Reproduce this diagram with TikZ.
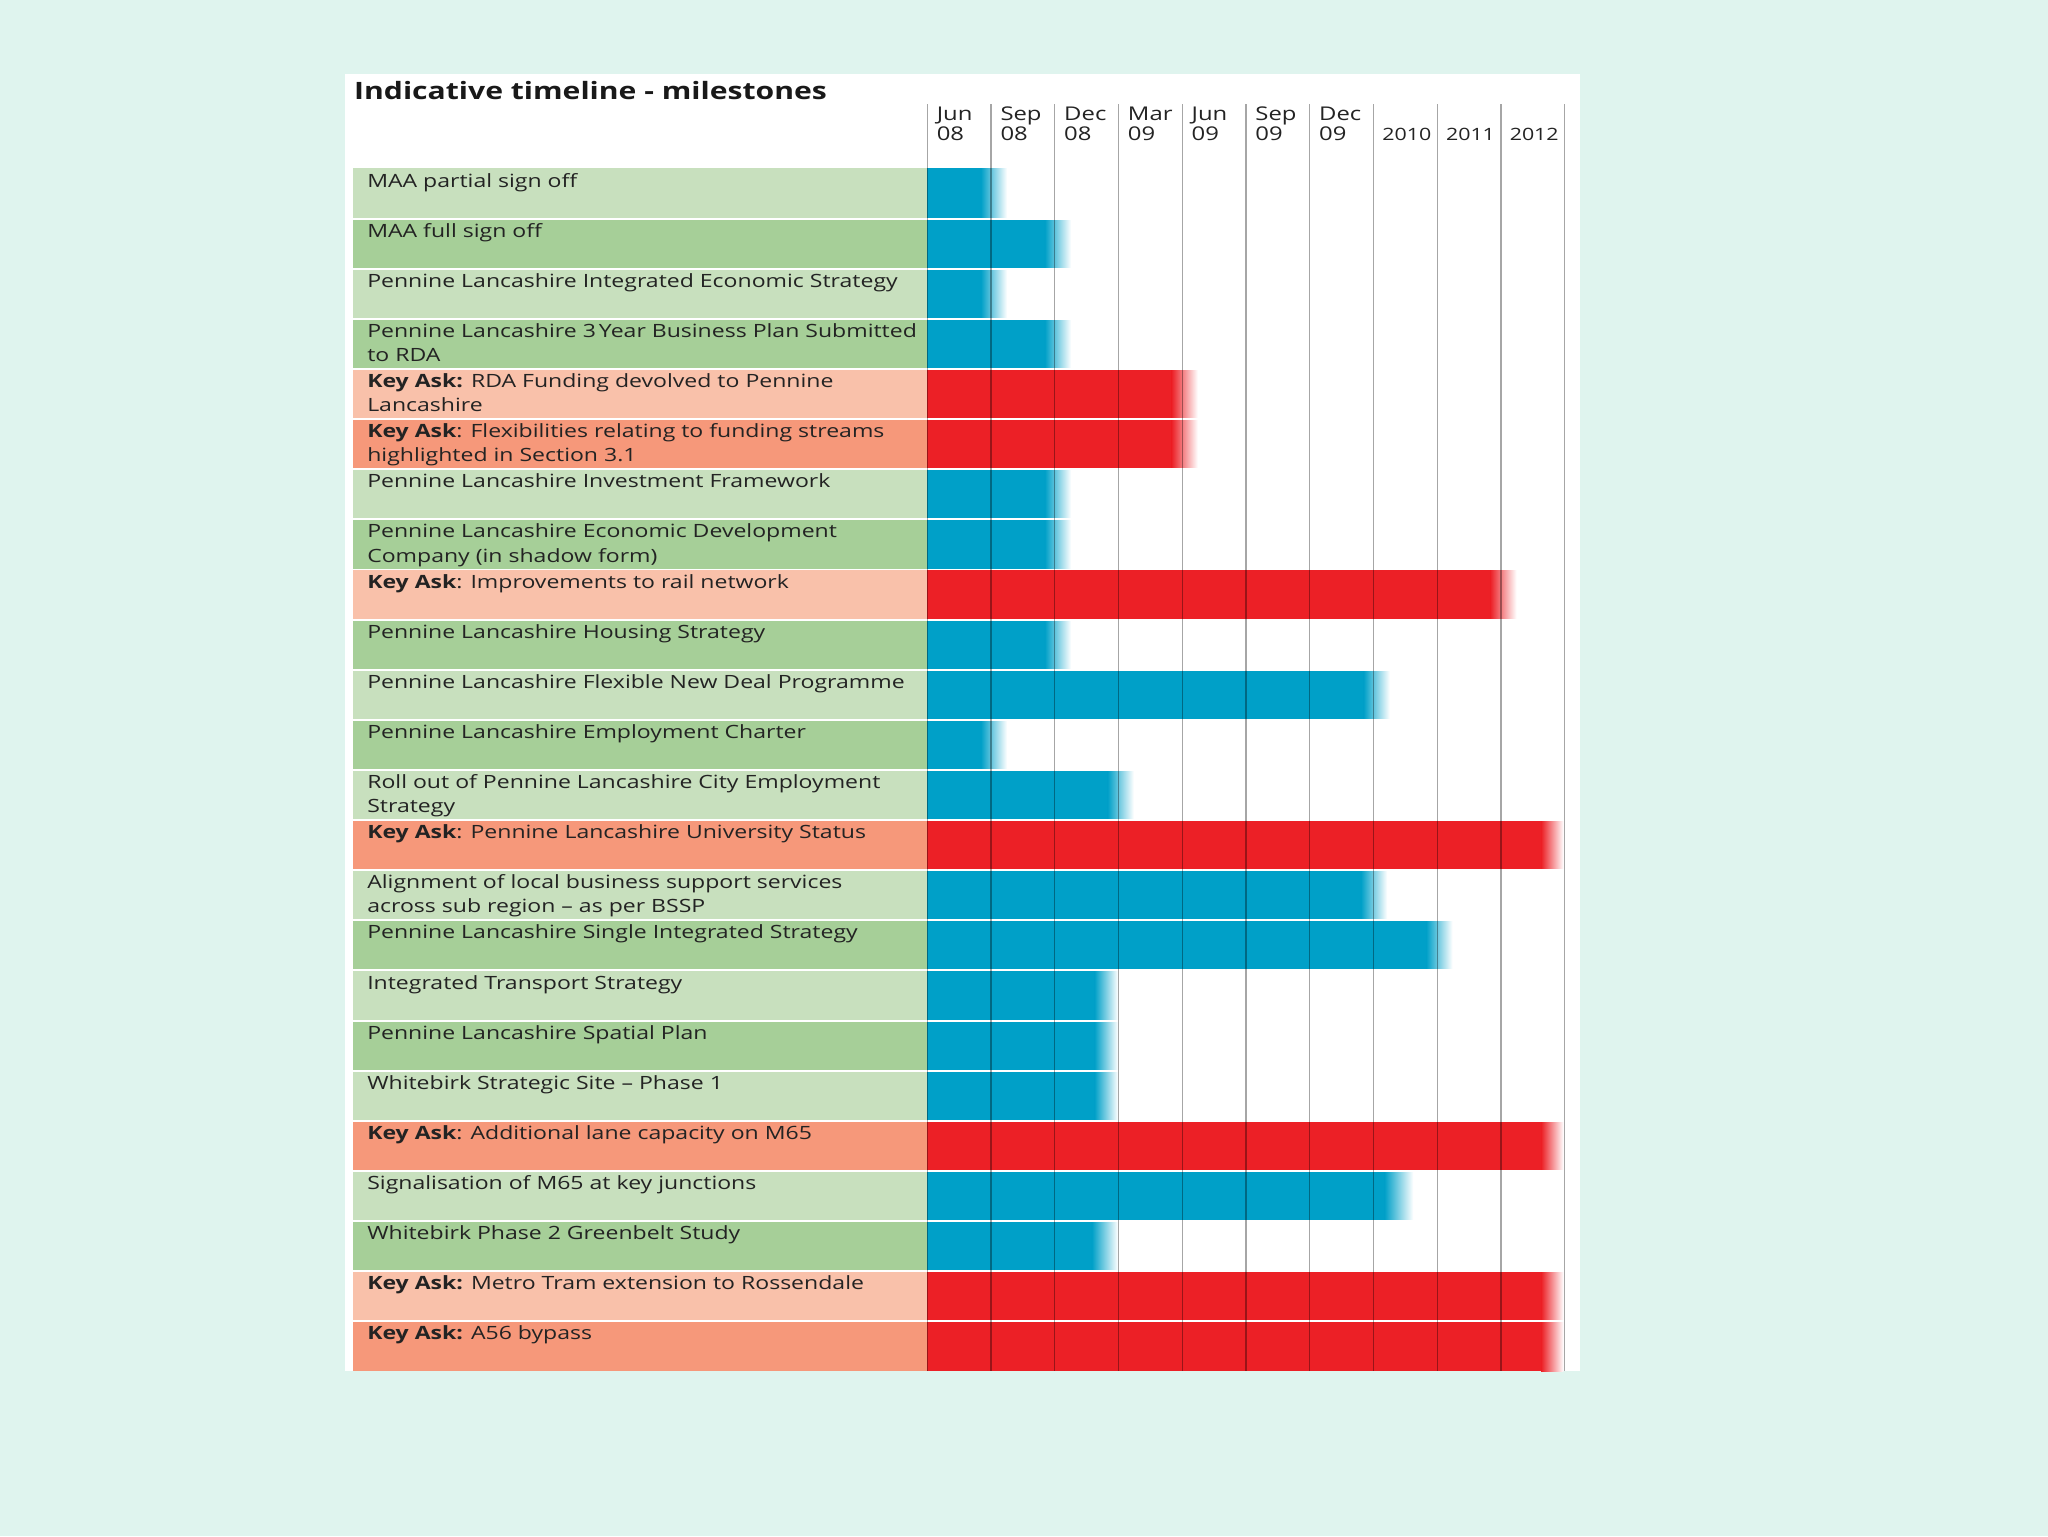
\documentclass[tikz,border=0pt]{standalone}
\usepackage{fontspec}
\setmainfont{Open Sans}[FakeStretch=1.26]
\definecolor{bgmint}{RGB}{223,244,238}
\definecolor{lgreen}{RGB}{200,224,190}
\definecolor{mgreen}{RGB}{166,207,152}
\definecolor{lsalmon}{RGB}{249,193,170}
\definecolor{dsalmon}{RGB}{246,152,122}
\definecolor{barblue}{RGB}{0,160,200}
\definecolor{barred}{RGB}{236,32,38}
\definecolor{txt}{RGB}{35,35,35}
\tikzset{
  lab/.style={anchor=north west,inner sep=0pt,align=left,text=txt,font=\fontsize{14}{18.5}\selectfont},
  hdr/.style={anchor=north west,inner sep=0pt,align=left,text=txt,font=\fontsize{14.5}{15.5}\selectfont},
  yr/.style={anchor=base west,inner sep=0pt,text=txt,font=\fontsize{13}{15.5}\selectfont},
  ttl/.style={anchor=base west,inner sep=0pt,text=black!90,font=\fontsize{18.3}{22}\selectfont\bfseries},
  gridline/.style={draw=black,draw opacity=0.35,line width=1pt},
  sepline/.style={draw=white,line width=1.5pt}
}
\begin{document}
\begin{tikzpicture}[x=1pt,y=-1pt]
\useasboundingbox (0,0) rectangle (1568,1176);
\fill[bgmint] (0,0) rectangle (1568,1176);
\fill[white] (264.5,57) rectangle (1210,1050);
\node[ttl] (title) at (271,76) {Indicative timeline - milestones};
\foreach \i/\fc/\bc/\se/\fe/\tx in {
 1/lgreen/barblue/751/771/{MAA partial sign off},
 2/mgreen/barblue/800/820/{MAA full sign off},
 3/lgreen/barblue/751/771/{Pennine Lancashire Integrated Economic Strategy},
 4/mgreen/barblue/800/820/{Pennine Lancashire 3\,Year Business Plan Submitted\\to RDA},
 5/lsalmon/barred/897/917/{\textbf{Key Ask:} RDA Funding devolved to Pennine\\Lancashire},
 6/dsalmon/barred/897/917/{\textbf{Key Ask}: Flexibilities relating to funding streams\\highlighted in Section 3.1},
 7/lgreen/barblue/800/820/{Pennine Lancashire Investment Framework},
 8/mgreen/barblue/800/820/{Pennine Lancashire Economic Development\\Company (in shadow form)},
 9/lsalmon/barred/1141/1161/{\textbf{Key Ask}: Improvements to rail network},
 10/mgreen/barblue/800/820/{Pennine Lancashire Housing Strategy},
 11/lgreen/barblue/1044/1064/{Pennine Lancashire Flexible New Deal Programme},
 12/mgreen/barblue/751/771/{Pennine Lancashire Employment Charter},
 13/lgreen/barblue/848/868/{Roll out of Pennine Lancashire City Employment\\Strategy},
 14/dsalmon/barred/1180/1197/{\textbf{Key Ask}: Pennine Lancashire University Status},
 15/lgreen/barblue/1042/1062/{Alignment of local business support services\\across sub region -- as per BSSP},
 16/mgreen/barblue/1092/1112/{Pennine Lancashire Single Integrated Strategy},
 17/lgreen/barblue/838/856/{Integrated Transport Strategy},
 18/mgreen/barblue/838/856/{Pennine Lancashire Spatial Plan},
 19/lgreen/barblue/838/856/{Whitebirk Strategic Site -- Phase 1},
 20/dsalmon/barred/1180/1197/{\textbf{Key Ask}: Additional lane capacity on M65},
 21/lgreen/barblue/1060/1082/{Signalisation of M65 at key junctions},
 22/mgreen/barblue/836/856/{Whitebirk Phase 2 Greenbelt Study},
 23/lsalmon/barred/1180/1197/{\textbf{Key Ask:} Metro Tram extension to Rossendale},
 24/dsalmon/barred/1180/1197/{\textbf{Key Ask:} A56 bypass}}{
  \pgfmathsetmacro\rt{129+(\i-1)*38.375}
  \pgfmathsetmacro\rb{\rt+38.375}
  \fill[\fc] (270,\rt) rectangle (710,\rb);
  \fill[\bc] (710,\rt) rectangle (\se,\rb);
  \shade[left color=\bc,right color=white] (\se,\rt) rectangle (\fe,\rb);
  \node[lab] (r\i) at (281,\rt+1.05) {\strut\tx};
}
\foreach \i in {1,...,23}{
  \pgfmathsetmacro\ry{129+\i*38.375}
  \draw[sepline] (270,\ry) -- (1198,\ry);
}
\foreach \k in {0,...,10}{
  \pgfmathsetmacro\gx{710+\k*48.8}
  \draw[gridline] (\gx,80) -- (\gx,1050);
}
\foreach \k/\t in {0/{Jun\\08},1/{Sep\\08},2/{Dec\\08},3/{Mar\\09},4/{Jun\\09},5/{Sep\\09},6/{Dec\\09}}{
  \pgfmathsetmacro\hx{710+\k*48.8+7}
  \node[hdr] (h\k) at (\hx,81.15) {\strut\t};
}
\foreach \k/\t in {7/2010,8/2011,9/2012}{
  \pgfmathsetmacro\hx{710+\k*48.8+6.5}
  \node[yr] (h\k) at (\hx,107.5) {\t};
}
\end{tikzpicture}
\end{document}
